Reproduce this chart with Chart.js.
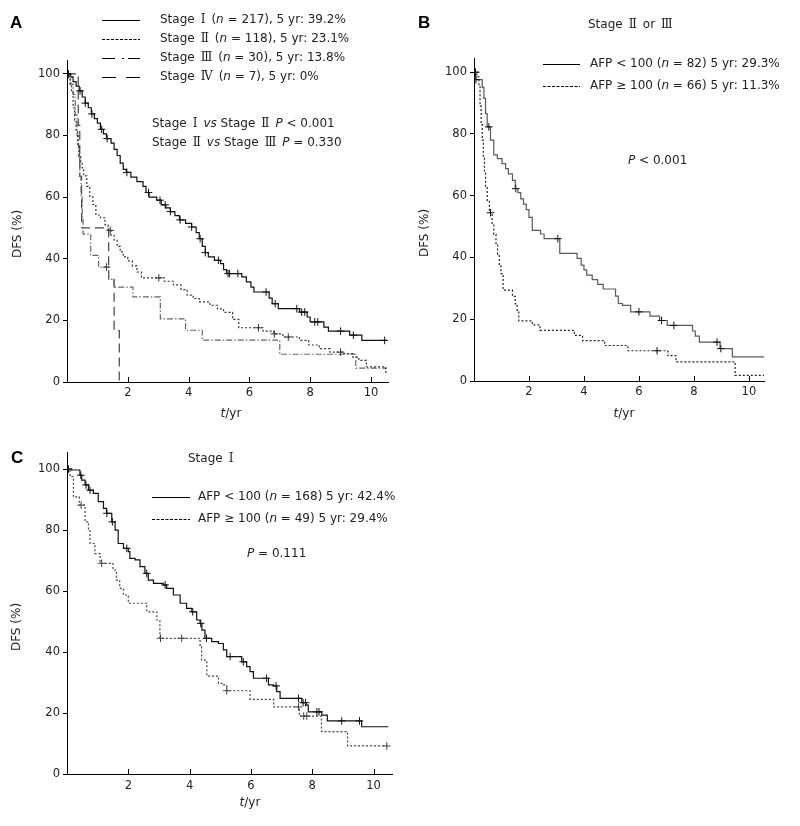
<!DOCTYPE html>
<html>
<head>
<meta charset="utf-8">
<script src="https://cdn.jsdelivr.net/npm/chart.js@4.4.0/dist/chart.umd.min.js"></script>
<style>
  html, body { margin: 0; padding: 0; background: #fff; }
  body { width: 800px; height: 826px; position: relative; overflow: hidden; }
  canvas { position: absolute; }
</style>
</head>
<body>
<canvas id="chartA" width="400" height="425" style="left:0;top:0"></canvas>
<canvas id="chartB" width="400" height="425" style="left:400px;top:0"></canvas>
<canvas id="chartC" width="400" height="401" style="left:0;top:425px"></canvas>
<script>
// ---- data: [time (yr), DFS %] step points ----
const xTicksA = [0, 2, 4, 6, 8, 10];
const yTicks = [0, 20, 40, 60, 80, 100];

// Panel A: by stage
const stageI = [[0,100],[0.1,99],[0.2,97.5],[0.3,96],[0.4,94.5],[0.5,92.5],[0.6,90.5],[0.7,89],[0.8,87],[0.9,85.5],[1.0,84],[1.1,82],[1.2,80.5],[1.3,79],[1.45,77.5],[1.55,75.5],[1.65,73.5],[1.75,71],[1.85,69],[1.95,68],[2.1,66.5],[2.3,65],[2.5,63.5],[2.6,61.5],[2.7,60],[2.95,59],[3.1,57.5],[3.25,56.5],[3.4,55.3],[3.55,54],[3.7,52.6],[3.9,51.5],[4.1,50.3],[4.25,48.5],[4.35,46.5],[4.45,44],[4.55,42],[4.65,40.6],[4.85,39.5],[5.05,38.4],[5.15,36.5],[5.25,35.2],[5.75,34.1],[5.9,32.5],[6.05,30.8],[6.15,29.2],[6.65,27.2],[6.75,25.4],[6.95,23.8],[7.65,22.7],[7.9,21.1],[8.0,19.5],[8.45,17.8],[8.6,16.5],[9.3,15.2],[9.7,13.5],[10.52,13.5]];
const stageICens = [[0.05,100],[0.43,94.5],[0.6,90.5],[0.82,87],[1.14,82],[1.32,79],[1.97,68],[2.68,61.5],[3.06,59],[3.23,57.5],[3.4,55.3],[3.72,52.6],[4.1,50.3],[4.38,46.5],[4.55,42],[4.98,39.5],[5.3,35.2],[5.35,35.2],[5.62,35.2],[6.55,29.2],[6.85,25.4],[7.56,23.8],[7.72,22.7],[7.82,22.7],[8.15,19.5],[8.25,19.5],[9.0,16.5],[9.42,15.2],[10.45,13.5]];
const stageII = [[0,100],[0.05,98.3],[0.1,96.6],[0.15,94.1],[0.2,89],[0.25,85],[0.3,81.4],[0.35,77.1],[0.4,73.7],[0.45,71.2],[0.5,69.5],[0.55,66.9],[0.65,63.5],[0.75,60.2],[0.85,57.6],[0.95,54.2],[1.1,53.3],[1.25,51],[1.35,49.2],[1.45,47.6],[1.55,46],[1.65,44],[1.75,42.2],[1.85,40.6],[2.0,39.3],[2.15,37.7],[2.3,35.7],[2.45,33.8],[3.2,32.7],[3.5,31.5],[3.75,30],[3.95,28.2],[4.15,27.1],[4.35,26],[4.7,24.9],[4.95,23.7],[5.15,22.6],[5.45,20.3],[5.65,17.6],[6.45,16.5],[6.8,15.6],[7.1,14.6],[7.65,13.5],[7.95,12],[8.3,10.8],[8.65,9.7],[9.05,9.2],[9.4,8.1],[9.6,7],[9.85,4.9],[10.48,3.2],[10.52,3.2]];
const stageIICens = [[1.42,49.2],[3.02,33.8],[6.3,17.6],[6.82,15.6],[7.28,14.6],[9.0,9.7]];
const stageIII = [[0,100],[0.12,96.7],[0.2,93.3],[0.27,86.7],[0.33,80],[0.38,73.3],[0.42,66.7],[0.46,60],[0.5,53.3],[0.53,48],[0.78,41.1],[1.04,37.3],[1.37,33.3],[1.55,30.8],[2.17,27.6],[3.07,20.5],[3.9,16.8],[4.45,13.6],[7.0,9],[9.5,4.5],[10.52,4.5]];
const stageIIICens = [[1.3,37.3]];
const stageIV = [[0,100],[0.37,83.3],[0.42,66.7],[0.48,50],[1.37,33.3],[1.55,16.7],[1.72,0]];

// Panel B: stage II or III, by AFP
const bLow = [[0,100],[0.06,97.6],[0.3,95.1],[0.36,91.5],[0.42,86.6],[0.48,82.3],[0.6,78],[0.72,73.2],[0.85,72],[1.02,70.4],[1.15,68.8],[1.25,67.1],[1.4,65],[1.5,62.3],[1.6,61],[1.7,59],[1.8,57.3],[1.9,55.5],[2.0,53],[2.12,48.8],[2.42,47.6],[2.55,46.1],[3.12,41.3],[3.75,39.7],[3.9,37.5],[4.0,36],[4.1,34.3],[4.3,32.8],[4.5,31.3],[4.7,29.8],[5.15,27.5],[5.25,25.1],[5.4,24.5],[5.7,22.4],[6.4,21],[6.75,19.6],[7.03,18],[7.95,16.2],[8.05,14.5],[8.2,12.6],[8.95,10.5],[9.4,7.8],[10.55,7.8]];
const bLowCens = [[0.05,100],[0.07,97.6],[0.54,82.3],[1.52,62.3],[3.05,46.1],[6.0,22.4],[6.82,19.6],[7.27,18],[8.84,12.6],[8.98,10.5]];
const bHigh = [[0,100],[0.1,98.5],[0.18,95.5],[0.22,89],[0.26,83],[0.3,78],[0.34,72.5],[0.38,68],[0.42,63],[0.48,58.5],[0.56,54.5],[0.66,51],[0.72,47.5],[0.8,44.5],[0.86,41],[0.92,37.8],[0.98,34.8],[1.06,29.4],[1.4,27.4],[1.5,25],[1.57,22.9],[1.63,19.5],[2.12,18.2],[2.4,16.4],[3.65,14.8],[3.95,13.1],[4.75,11.5],[5.6,9.8],[7.05,8.2],[7.35,6.2],[9.5,1.8],[10.55,1.8]];
const bHighCens = [[0.05,100],[0.6,54.5],[6.66,9.8]];

// Panel C: stage I, by AFP
const cLow = [[0,100],[0.15,99.7],[0.42,98],[0.48,96.4],[0.59,94.8],[0.7,93.1],[0.86,92],[1.02,89.3],[1.19,87.1],[1.29,85.5],[1.46,82.7],[1.57,80],[1.67,75.6],[1.84,74],[2.0,72.9],[2.05,70.7],[2.22,70.2],[2.38,68],[2.54,65.8],[2.65,63.6],[2.82,62.5],[3.14,62],[3.25,60.9],[3.47,58.7],[3.69,56],[3.9,54.3],[4.07,53.2],[4.23,50.5],[4.34,49.4],[4.4,47.2],[4.5,44.5],[4.72,43.4],[4.94,42.8],[5.1,40.7],[5.21,38.5],[5.7,36.8],[5.86,35.2],[5.97,33.6],[6.08,31.4],[6.57,29.2],[6.73,28.9],[6.84,27],[6.95,24.8],[7.66,23.4],[7.8,22.6],[7.87,20.4],[8.31,19.3],[8.49,17.4],[9.61,15.5],[10.48,15.5]];
const cLowCens = [[0.05,100],[0.45,98],[0.62,94.8],[0.75,93.1],[1.3,85.5],[1.48,82.7],[1.95,74],[2.6,65.8],[3.2,62],[4.1,53.2],[4.36,49.4],[4.55,44.5],[5.32,38.5],[5.75,36.8],[6.51,31.4],[6.82,28.9],[7.55,24.8],[7.7,23.4],[7.78,23.4],[8.15,20.4],[8.22,20.4],[8.96,17.4],[9.54,17.4]];
const cHigh = [[0,100],[0.1,97.5],[0.21,90.9],[0.4,88.2],[0.59,82.7],[0.7,80],[0.75,75.6],[0.91,72.3],[1.08,69.1],[1.5,66.9],[1.61,63.6],[1.72,60.9],[1.84,58.7],[2.0,56],[2.6,53.2],[2.93,50.5],[3.03,44.5],[4.34,41.7],[4.39,37.4],[4.5,36.8],[4.56,32.1],[4.94,29.7],[5.1,29.2],[5.21,27.3],[5.97,24.5],[6.74,22],[7.58,19],[8.3,13.9],[9.15,9.2],[10.43,9.2]];
const cHighCens = [[0.46,88.2],[1.13,69.1],[3.05,44.5],[3.74,44.5],[5.21,27.3],[7.55,22],[7.72,19],[7.82,19],[10.43,9.2]];

// ---- styling ----
const FAMILY = '"DejaVu Sans", Verdana, sans-serif';
const FONT = '12px ' + FAMILY;
const ITAL = 'italic 12px ' + FAMILY;
const ROMAN = '12px "DejaVu Serif", "Noto Sans CJK SC", serif';
const I = s => ({ t: s, f: ITAL });
const R = s => ({ t: '\u2002' + s + '\u2002', f: ROMAN });

function curve(points, color, dash) {
  return {
    data: points.map(p => ({ x: p[0], y: p[1] })),
    showLine: true, stepped: true, fill: false,
    borderColor: color, borderWidth: 1.2, borderDash: dash || [],
    pointRadius: 0, pointHoverRadius: 0
  };
}
function marks(points, color) {
  return {
    data: points.map(p => ({ x: p[0], y: p[1] })),
    showLine: false, pointStyle: 'cross', pointRadius: 3.8,
    borderColor: color, backgroundColor: color, pointBorderWidth: 1
  };
}

function axes(xMax, yMax, yW, xH, xPad) {
  return {
    x: {
      type: 'linear', min: 0, max: xMax,
      afterFit: s => { s.height = xH; },
      grid: { display: false, drawTicks: false },
      border: { display: true, color: '#000', width: 1 },
      afterBuildTicks: s => { s.ticks = xTicksA.map(v => ({ value: v })); },
      ticks: { padding: xPad, color: '#222', font: { family: FAMILY, size: 11.5 },
               maxRotation: 0, autoSkip: false, callback: v => v === 0 ? '' : v }
    },
    y: {
      min: 0, max: yMax,
      afterFit: s => { s.width = yW; },
      grid: { display: true, drawOnChartArea: false, drawTicks: true, tickLength: 4, color: '#000' },
      border: { display: true, color: '#000', width: 1 },
      afterBuildTicks: s => { s.ticks = yTicks.map(v => ({ value: v })); },
      ticks: { padding: 3, color: '#222', font: { family: FAMILY, size: 11.5 } }
    }
  };
}

// inward tick marks on the time axis
const innerTicks = {
  id: 'innerTicks',
  afterDatasetsDraw(chart) {
    const { ctx, chartArea: a, scales: { x } } = chart;
    ctx.save();
    ctx.strokeStyle = '#000';
    ctx.lineWidth = 1;
    ctx.beginPath();
    x.ticks.forEach(t => {
      if (t.value === 0) return;
      const px = Math.round(x.getPixelForValue(t.value)) + 0.5;
      ctx.moveTo(px, a.bottom);
      ctx.lineTo(px, a.bottom - 5);
    });
    ctx.stroke();
    ctx.restore();
  }
};

// panel letters, legends, p-values and axis titles
function notes(cfg) {
  return {
    id: 'notes',
    afterDraw(chart) {
      const ctx = chart.ctx;
      ctx.save();
      (cfg.lines || []).forEach(l => {
        ctx.beginPath();
        ctx.setLineDash(l.dash || []);
        ctx.strokeStyle = l.color || '#000';
        ctx.lineWidth = 1.2;
        ctx.moveTo(l.x1, l.y + 0.5);
        ctx.lineTo(l.x2, l.y + 0.5);
        ctx.stroke();
      });
      ctx.setLineDash([]);
      (cfg.texts || []).forEach(tx => {
        ctx.save();
        ctx.translate(tx.x, tx.y);
        if (tx.rotate) ctx.rotate(tx.rotate);
        ctx.textBaseline = 'middle';
        ctx.textAlign = 'left';
        ctx.fillStyle = tx.color || '#222';
        const runs = tx.runs.map(r => typeof r === 'string' ? { t: r, f: tx.font || FONT } : r);
        let w = 0;
        runs.forEach(r => { ctx.font = r.f; w += ctx.measureText(r.t).width; });
        let cx = tx.align === 'center' ? -w / 2 : 0;
        runs.forEach(r => {
          ctx.font = r.f;
          ctx.fillText(r.t, cx, 0);
          cx += ctx.measureText(r.t).width;
        });
        ctx.restore();
      });
      ctx.restore();
    }
  };
}

function makeChart(id, datasets, scales, padding, note) {
  return new Chart(document.getElementById(id), {
    type: 'scatter',
    data: { datasets },
    options: {
      responsive: false,
      animation: false,
      layout: { padding },
      scales,
      plugins: { legend: { display: false }, tooltip: { enabled: false } }
    },
    plugins: [innerTicks, notes(note)]
  });
}

const LETTER = 'bold 17px "Liberation Sans", Arial, sans-serif';

// Panel A
makeChart('chartA', [
  marks(stageICens, '#111'),
  curve(stageI, '#111'),
  marks(stageIICens, '#333'),
  curve(stageII, '#333', [2, 2]),
  marks(stageIIICens, '#444'),
  curve(stageIII, '#666', [6, 2, 1.5, 2]),
  curve(stageIV, '#444', [9, 5])
], axes(10.56, 104.5, 67, 43, 4), { left: 0, top: 60, right: 12, bottom: 0 }, {
  lines: [
    { x1: 102, x2: 140, y: 20 },
    { x1: 102, x2: 140, y: 39, dash: [3, 1.5] },
    { x1: 102, x2: 140, y: 58, dash: [13, 7, 2, 4] },
    { x1: 102, x2: 140, y: 77, dash: [14, 10] }
  ],
  texts: [
    { x: 10, y: 23, runs: [{ t: 'A', f: LETTER }], color: '#000' },
    { x: 160, y: 20, runs: ['Stage', R('Ⅰ'), '(', I('n'), ' = 217), 5 yr: 39.2%'] },
    { x: 160, y: 39, runs: ['Stage', R('Ⅱ'), '(', I('n'), ' = 118), 5 yr: 23.1%'] },
    { x: 160, y: 58, runs: ['Stage', R('Ⅲ'), '(', I('n'), ' = 30), 5 yr: 13.8%'] },
    { x: 160, y: 77, runs: ['Stage', R('Ⅳ'), '(', I('n'), ' = 7), 5 yr: 0%'] },
    { x: 152, y: 124, runs: ['Stage', R('Ⅰ'), I('vs'), ' Stage', R('Ⅱ'), I('P'), ' < 0.001'] },
    { x: 152, y: 143, runs: ['Stage', R('Ⅱ'), I('vs'), ' Stage', R('Ⅲ'), I('P'), ' = 0.330'] },
    { x: 18, y: 234, rotate: -Math.PI / 2, align: 'center', runs: ['DFS (%)'] },
    { x: 231, y: 414, align: 'center', runs: [I('t'), '/yr'] }
  ]
});

// Panel B
makeChart('chartB', [
  marks(bLowCens, '#111'),
  curve(bLow, '#5a5a5a'),
  marks(bHighCens, '#111'),
  curve(bHigh, '#222', [2, 2])
], axes(10.55, 104.6, 74, 44, 4), { left: 0, top: 58, right: 36, bottom: 0 }, {
  lines: [
    { x1: 143, x2: 180, y: 64 },
    { x1: 143, x2: 180, y: 86, dash: [3, 1.5] }
  ],
  texts: [
    { x: 18, y: 23, runs: [{ t: 'B', f: LETTER }], color: '#000' },
    { x: 188, y: 25, runs: ['Stage', R('Ⅱ'), 'or', R('Ⅲ')] },
    { x: 190, y: 64, runs: ['AFP < 100 (', I('n'), ' = 82) 5 yr: 29.3%'] },
    { x: 190, y: 86, runs: ['AFP ≥ 100 (', I('n'), ' = 66) 5 yr: 11.3%'] },
    { x: 228, y: 161, runs: [I('P'), ' < 0.001'] },
    { x: 25, y: 233, rotate: -Math.PI / 2, align: 'center', runs: ['DFS (%)'] },
    { x: 224, y: 414, align: 'center', runs: [I('t'), '/yr'] }
  ]
});

// Panel C
makeChart('chartC', [
  marks(cLowCens, '#111'),
  curve(cLow, '#111'),
  marks(cHighCens, '#444'),
  curve(cHigh, '#444', [2, 2])
], axes(10.6, 105.6, 67, 52, 5), { left: 0, top: 27, right: 8, bottom: 0 }, {
  lines: [
    { x1: 152, x2: 190, y: 72 },
    { x1: 152, x2: 190, y: 94, dash: [3, 1.5] }
  ],
  texts: [
    { x: 11, y: 33, runs: [{ t: 'C', f: LETTER }], color: '#000' },
    { x: 188, y: 34, runs: ['Stage', R('Ⅰ')] },
    { x: 198, y: 72, runs: ['AFP < 100 (', I('n'), ' = 168) 5 yr: 42.4%'] },
    { x: 198, y: 94, runs: ['AFP ≥ 100 (', I('n'), ' = 49) 5 yr: 29.4%'] },
    { x: 247, y: 129, runs: [I('P'), ' = 0.111'] },
    { x: 17, y: 202, rotate: -Math.PI / 2, align: 'center', runs: ['DFS (%)'] },
    { x: 250, y: 378, align: 'center', runs: [I('t'), '/yr'] }
  ]
});
</script>
</body>
</html>
